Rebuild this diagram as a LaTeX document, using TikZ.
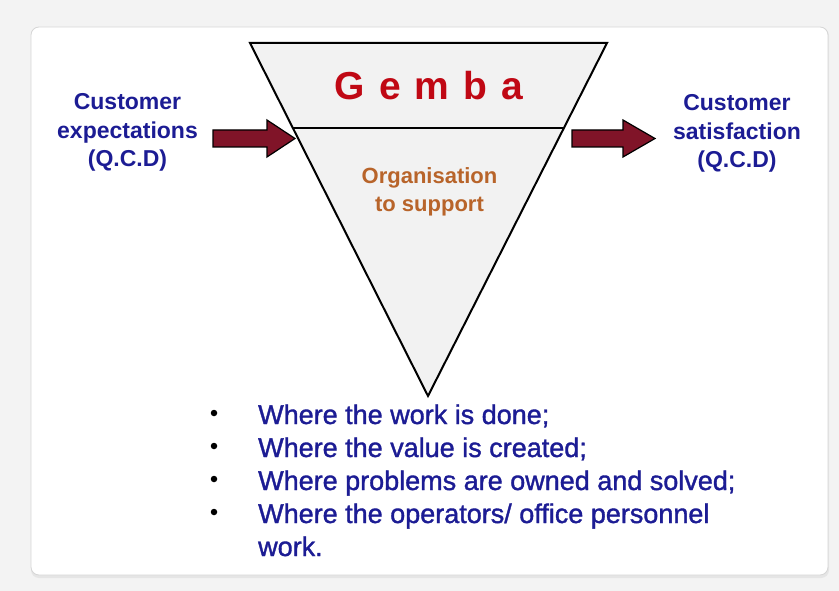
\documentclass[tikz,border=0pt]{standalone}
\usepackage{fontspec}
\setmainfont{Liberation Sans}
\newfontfamily\pointfont[FakeBold=1.3]{Liberation Sans}
\usetikzlibrary{calc}
\definecolor{pagegray}{RGB}{243,243,243}
\definecolor{panelline}{RGB}{214,214,214}
\definecolor{funnelfill}{RGB}{242,242,242}
\definecolor{custblue}{RGB}{28,28,148}
\definecolor{gembared}{RGB}{192,8,20}
\definecolor{orgbrown}{RGB}{184,100,42}
\definecolor{arrowred}{RGB}{128,20,40}
\tikzset{
  sidelabel/.style={align=center, inner sep=0pt, text=custblue,
    font=\fontsize{23}{28.5}\selectfont\bfseries},
  orglabel/.style={align=center, inner sep=0pt, text=orgbrown,
    font=\fontsize{22}{28.5}\selectfont\bfseries},
  titlelabel/.style={inner sep=0pt, text=gembared,
    font=\fontsize{39}{44}\selectfont\bfseries},
  pointline/.style={anchor=base west, inner sep=0pt, text=custblue,
    font=\pointfont\fontsize{27}{32}\selectfont},
  pointdot/.style={circle, fill=black, inner sep=0pt, minimum size=6.5pt},
  blockarrow/.style={fill=arrowred, draw=black, line width=1.2pt, line join=miter},
  funnel/.style={draw=black, fill=funnelfill, line width=2pt, line join=miter}
}
\begin{document}
\begin{tikzpicture}[x=1pt,y=-1pt]
\useasboundingbox (0,0) rectangle (839,591);
% page and white panel
\fill[pagegray] (0,0) rectangle (839,591);
\fill[black!10, rounded corners=8pt] (31,28) rectangle (829,578);
\filldraw[fill=white, draw=panelline, line width=0.8pt, rounded corners=8pt] (31,27) rectangle (828,575);

% inverted triangle with its dividing line
\coordinate (tl) at (250,43);
\coordinate (tr) at (607,43);
\coordinate (apex) at (428,396);
\draw[funnel] (tl) -- (tr) -- (apex) -- cycle;
\coordinate (dl) at ($(tl)!0.2408!(apex)$);
\coordinate (dr) at ($(tr)!0.2408!(apex)$);
\draw[line width=2pt] (dl) -- (dr);

% block arrows in and out
\draw[blockarrow] (213,130) -- (267,130) -- (267,120) -- (295,138.5)
  -- (267,157) -- (267,147) -- (213,147) -- cycle;
\draw[blockarrow] (572,130) -- (623,130) -- (623,120) -- (655,138.5)
  -- (623,157) -- (623,147) -- (572,147) -- cycle;

% labels
\node[sidelabel] (expect) at (127.5,132.5) {Customer\\expectations\\(Q.C.D)};
\node[sidelabel] (satisf) at (737,133.5) {Customer\\satisfaction\\(Q.C.D)};
\node[titlelabel] (gemba) at (429,86)
  {G\hspace{14pt}e\hspace{14pt}m\hspace{14pt}b\hspace{14pt}a};
\node[orglabel] (org) at (429.5,192) {Organisation\\to support};

% bullet points
\node[pointdot] (d1) at (214,413) {};
\node[pointdot] (d2) at (214,446) {};
\node[pointdot] (d3) at (214,479) {};
\node[pointdot] (d4) at (214,512) {};
\node[pointline] (p1) at (258,424) {Where the work is done;};
\node[pointline] (p2) at (258,457) {Where the value is created;};
\node[pointline] (p3) at (258,490) {Where problems are owned and solved;};
\node[pointline] (p4) at (258,523) {Where the operators/ office personnel};
\node[pointline] (p5) at (258,556) {work.};
\end{tikzpicture}
\end{document}
